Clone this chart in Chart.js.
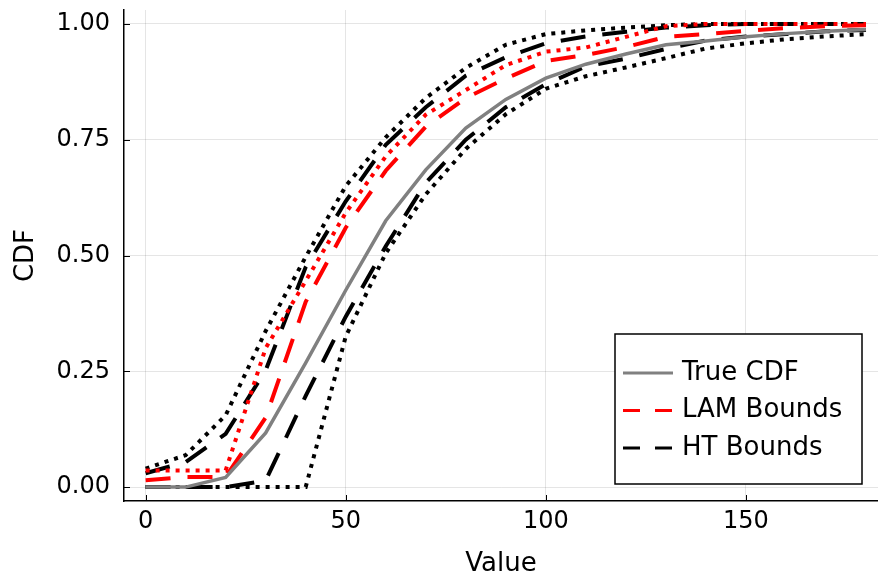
<!DOCTYPE html>
<html>
<head>
<meta charset="utf-8">
<script src="https://cdn.jsdelivr.net/npm/chart.js@4.4.1/dist/chart.umd.min.js"></script>
<style>
  html, body { margin: 0; padding: 0; background: #fff; }
</style>
</head>
<body>
<canvas id="cdfChart" width="878" height="580"></canvas>
<script>
// grid of values the CDFs were evaluated at
var values = [0, 10, 20, 30, 40, 50, 60, 70, 80, 90, 100, 110, 120, 130, 140, 150, 160, 170, 180];

var trueCdf = [0, 0, 0.021, 0.117, 0.268, 0.425, 0.575, 0.685, 0.775, 0.837, 0.883, 0.913, 0.935, 0.955, 0.963, 0.972, 0.979, 0.984, 0.988];
var lamDashed = [0.015, 0.022, 0.022, 0.15, 0.40, 0.56, 0.683, 0.778, 0.84, 0.882, 0.92, 0.933, 0.95, 0.972, 0.978, 0.985, 0.991, 0.995, 0.997];
var lamDotted = [0.036, 0.036, 0.036, 0.30, 0.445, 0.592, 0.714, 0.804, 0.857, 0.911, 0.94, 0.949, 0.972, 0.995, 1, 1, 1, 1, 1];
var htUpperDashed = [0.03, 0.054, 0.115, 0.252, 0.475, 0.617, 0.739, 0.82, 0.888, 0.928, 0.958, 0.973, 0.983, 0.992, 0.997, 1, 1, 1, 1];
var htLowerDashed = [0, 0, 0, 0.014, 0.197, 0.368, 0.52, 0.657, 0.75, 0.82, 0.87, 0.908, 0.925, 0.946, 0.964, 0.973, 0.978, 0.984, 0.987];
var htUpperDotted = [0.04, 0.069, 0.155, 0.337, 0.497, 0.65, 0.755, 0.84, 0.905, 0.955, 0.978, 0.986, 0.992, 0.997, 1, 1, 1, 1, 1];
var htLowerDotted = [0, 0, 0, 0, 0, 0.325, 0.505, 0.632, 0.73, 0.805, 0.86, 0.887, 0.906, 0.926, 0.947, 0.958, 0.967, 0.973, 0.978];

var xTicks = [0, 50, 100, 150];
var yTicks = [0, 0.25, 0.5, 0.75, 1];

var FONT = "'DejaVu Sans', sans-serif";
var DASH = [25, 17];
var DOT = [4, 6];

function pts(ys) {
  return values.map(function (v, i) { return { x: v, y: ys[i] }; });
}

function line(label, ys, color, width, dash) {
  return {
    label: label,
    data: pts(ys),
    borderColor: color,
    borderWidth: width,
    borderDash: dash,
    borderCapStyle: 'butt',
    pointRadius: 0,
    tension: 0,
    fill: false
  };
}

// tick marks drawn inward, like the original plot
var innerTicks = {
  id: 'innerTicks',
  afterDatasetsDraw: function (chart) {
    var ctx = chart.ctx, sx = chart.scales.x, sy = chart.scales.y, a = chart.chartArea;
    ctx.save();
    ctx.strokeStyle = '#000';
    ctx.lineWidth = 1;
    ctx.beginPath();
    sx.ticks.forEach(function (t) {
      var p = Math.round(sx.getPixelForValue(t.value)) + 0.5;
      ctx.moveTo(p, a.bottom);
      ctx.lineTo(p, a.bottom - 6);
    });
    sy.ticks.forEach(function (t) {
      var p = Math.round(sy.getPixelForValue(t.value)) + 0.5;
      ctx.moveTo(a.left, p);
      ctx.lineTo(a.left + 6, p);
    });
    ctx.stroke();
    ctx.restore();
  }
};

// legend box inside the plot, bottom right; only labelled series are listed
var boxLegend = {
  id: 'boxLegend',
  afterDraw: function (chart) {
    var ctx = chart.ctx, a = chart.chartArea;
    var items = chart.data.datasets.filter(function (d) { return d.label; });
    var w = 247, h = 150;
    var left = a.right - 16 - w, top = a.bottom - 17 - h;
    ctx.save();
    ctx.fillStyle = '#fff';
    ctx.fillRect(left, top, w, h);
    ctx.strokeStyle = '#000';
    ctx.lineWidth = 1.5;
    ctx.strokeRect(left, top, w, h);
    ctx.font = '26px ' + FONT;
    ctx.textBaseline = 'middle';
    ctx.textAlign = 'left';
    items.forEach(function (d, i) {
      var y = top + 39 + i * 37.5;
      ctx.beginPath();
      ctx.strokeStyle = d.borderColor;
      ctx.lineWidth = 3;
      ctx.setLineDash(d.borderDash && d.borderDash.length ? [17, 15] : []);
      ctx.moveTo(left + 8, y);
      ctx.lineTo(left + 58, y);
      ctx.stroke();
      ctx.setLineDash([]);
      ctx.fillStyle = '#000';
      ctx.fillText(d.label, left + 67, y);
    });
    ctx.restore();
  }
};

var ctx = document.getElementById('cdfChart').getContext('2d');
var cdfChart = new Chart(ctx, {
  type: 'line',
  data: {
    datasets: [
      line('True CDF', trueCdf, '#808080', 3.5, []),
      line('LAM Bounds', lamDashed, '#ff0000', 4, DASH),
      line('', lamDotted, '#ff0000', 4, DOT),
      line('HT Bounds', htUpperDashed, '#000000', 4, DASH),
      line('', htLowerDashed, '#000000', 4, DASH),
      line('', htUpperDotted, '#000000', 4, DOT),
      line('', htLowerDotted, '#000000', 4, DOT)
    ]
  },
  options: {
    responsive: false,
    animation: false,
    devicePixelRatio: 1,
    layout: {
      padding: { top: 10, right: 0, left: 0, bottom: 0 }
    },
    plugins: {
      legend: { display: false },
      tooltip: { enabled: false }
    },
    scales: {
      x: {
        type: 'linear',
        min: -5.4,
        max: 183,
        afterBuildTicks: function (s) { s.ticks = xTicks.map(function (v) { return { value: v }; }); },
        afterFit: function (s) { s.height = 79; s.paddingLeft = 0; s.paddingRight = 0; },
        grid: { color: 'rgba(0,0,0,0.1)', drawTicks: false },
        border: { color: '#000', width: 1.5 },
        ticks: {
          color: '#000',
          padding: 6,
          maxRotation: 0,
          font: { family: FONT, size: 24 }
        },
        title: {
          display: true,
          text: 'Value',
          color: '#000',
          padding: { top: 0, bottom: 0 },
          font: { family: FONT, size: 26 }
        }
      },
      y: {
        min: -0.03,
        max: 1.03,
        afterBuildTicks: function (s) { s.ticks = yTicks.map(function (v) { return { value: v }; }); },
        afterFit: function (s) { s.width = 124; s.paddingTop = 0; s.paddingBottom = 0; },
        grid: { color: 'rgba(0,0,0,0.1)', drawTicks: false },
        border: { color: '#000', width: 1.5 },
        ticks: {
          color: '#000',
          padding: 14,
          font: { family: FONT, size: 24 },
          callback: function (v) { return v.toFixed(2); }
        },
        title: {
          display: true,
          text: 'CDF',
          color: '#000',
          padding: { top: 11, bottom: 0 },
          font: { family: FONT, size: 26 }
        }
      }
    }
  },
  plugins: [innerTicks, boxLegend]
});
</script>
</body>
</html>
